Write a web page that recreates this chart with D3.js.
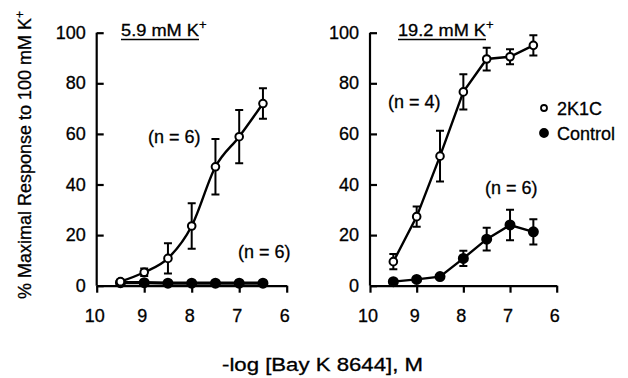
<!DOCTYPE html>
<html>
<head>
<meta charset="utf-8">
<script src="https://cdn.jsdelivr.net/npm/d3@7"></script>
<style>
  body { margin: 0; background: #fff; }
  svg { display: block; font-family: 'Liberation Sans', Arial, sans-serif; }
  svg text { stroke: #000; stroke-width: 0.3px; fill: #000; }
</style>
</head>
<body>
<div id="chart"></div>
<script>
const W = 628;
const H = 378;

// -log concentration of Bay K 8644
const doses = [9.5, 9, 8.5, 8, 7.5, 7, 6.5];
const xTicks = [10, 9, 8, 7, 6];
const yTicks = [0, 20, 40, 60, 80, 100];

// 5.9 mM K+
const low2K1C = [1.6, 5.3, 10.8, 23.6, 47, 58.9, 72];
const low2K1CErr = [0.8, 1.5, 6, 9, 11, 10.5, 6];
const lowControl = [1.2, 1.2, 1, 1, 1, 1, 1];
const lowControlErr = [0, 0, 0, 0, 0, 0, 0];

// 19.2 mM K+
const high2K1C = [9.5, 27.3, 51.2, 76.6, 89.6, 90.5, 95];
const high2K1CErr = [3, 4, 10, 7, 4.5, 3, 4];
const highControl = [1.6, 2.5, 3.6, 10.8, 18.4, 24, 21.3];
const highControlErr = [0.5, 0.5, 0.5, 3, 4.5, 6, 5];

const svg = d3.select('#chart').append('svg').attr('width', W).attr('height', H);

const FONT = 18;

function drawPanel(opts) {
  const x = d3.scaleLinear().domain([10, 6]).range([opts.left, opts.right]);
  const y = d3.scaleLinear().domain([0, 100]).range([285.7, 32.7]);
  const g = svg.append('g');

  // y axis, ticks inward
  g.append('g')
    .attr('transform', `translate(${opts.left},0)`)
    .call(d3.axisRight(y).tickValues(yTicks).tickSize(7).tickFormat(''))
    .call((a) => a.select('.domain').attr('d', `M0,${y(100)}V${y(0)}`));
  g.selectAll('text.ylab')
    .data(yTicks)
    .enter()
    .append('text')
    .attr('class', 'ylab')
    .attr('x', opts.left - 11)
    .attr('y', (d) => y(d) + 6)
    .attr('text-anchor', 'end')
    .attr('font-size', FONT)
    .text((d) => d);

  // x axis, ticks outward
  g.append('g')
    .attr('transform', `translate(0,${y(0)})`)
    .call(d3.axisBottom(x).tickValues(xTicks).tickSize(7).tickSizeOuter(0).tickFormat(''));
  g.selectAll('text.xlab')
    .data(xTicks)
    .enter()
    .append('text')
    .attr('class', 'xlab')
    .attr('x', (d) => x(d) - 2)
    .attr('y', 322)
    .attr('text-anchor', 'middle')
    .attr('font-size', FONT)
    .text((d) => d);

  g.selectAll('.domain, .tick line').attr('stroke', '#000').attr('stroke-width', 2.2);

  // title with underline under the base text only
  const t = g.append('text')
    .attr('x', opts.titleX)
    .attr('y', 36)
    .attr('font-size', 17);
  t.append('tspan').attr('textLength', opts.titleW).attr('lengthAdjust', 'spacingAndGlyphs').text(opts.title);
  t.append('tspan').attr('dy', -7).attr('font-size', 13).text('+');
  g.append('line')
    .attr('x1', opts.titleX)
    .attr('x2', opts.titleX + opts.titleW)
    .attr('y1', 39.5)
    .attr('y2', 39.5)
    .attr('stroke', '#000')
    .attr('stroke-width', 1.6);

  opts.series.forEach((s) => {
    const line = d3.line()
      .x((d, i) => x(doses[i]))
      .y((d) => y(d))
      .curve(s.curve || d3.curveLinear);
    g.append('path')
      .datum(s.values)
      .attr('d', line)
      .attr('fill', 'none')
      .attr('stroke', '#000')
      .attr('stroke-width', s.width || 2.4);

    const eb = g.append('g');
    s.values.forEach((v, i) => {
      const e = s.err[i];
      if (!e) return;
      const cx = x(doses[i]);
      eb.append('path')
        .attr('d', `M${cx},${y(v + e)}V${y(v - e)}M${cx - 4},${y(v + e)}h8M${cx - 4},${y(v - e)}h8`)
        .attr('stroke', '#000')
        .attr('stroke-width', 2)
        .attr('fill', 'none');
    });

    g.selectAll(null)
      .data(s.values)
      .enter()
      .append('circle')
      .attr('cx', (d, i) => x(doses[i]))
      .attr('cy', (d) => y(d))
      .attr('r', s.filled ? 4.5 : 3.8)
      .attr('fill', s.filled ? '#000' : '#fff')
      .attr('stroke', '#000')
      .attr('stroke-width', 2);
  });

  opts.notes.forEach((n) => {
    g.append('text')
      .attr('x', n.x)
      .attr('y', n.y)
      .attr('font-size', FONT)
      .text(n.text);
  });
}

drawPanel({
  left: 96.7,
  right: 286.7,
  title: '5.9 mM K',
  titleX: 121,
  titleW: 78,
  series: [
    { values: lowControl, err: lowControlErr, filled: true, width: 3.2 },
    { values: low2K1C, err: low2K1CErr, filled: false, curve: d3.curveMonotoneX },
  ],
  notes: [
    { x: 148, y: 143, text: '(n = 6)' },
    { x: 238, y: 258, text: '(n = 6)' },
  ],
});

drawPanel({
  left: 370,
  right: 556.7,
  title: '19.2 mM K',
  titleX: 398,
  titleW: 88,
  series: [
    { values: highControl, err: highControlErr, filled: true },
    { values: high2K1C, err: high2K1CErr, filled: false },
  ],
  notes: [
    { x: 388, y: 108, text: '(n = 4)' },
    { x: 485, y: 194, text: '(n = 6)' },
  ],
});

// legend
const legend = svg.append('g');
const legendItems = ['2K1C', 'Control'];
legendItems.forEach((name, i) => {
  const cy = 108 + i * 25;
  legend.append('circle')
    .attr('cx', 544)
    .attr('cy', cy)
    .attr('r', name === 'Control' ? 4 : 3)
    .attr('fill', name === 'Control' ? '#000' : '#fff')
    .attr('stroke', '#000')
    .attr('stroke-width', 1.8);
  legend.append('text')
    .attr('x', 557)
    .attr('y', cy + 7)
    .attr('font-size', FONT)
    .text(name);
});

// axis titles
svg.append('text')
  .attr('transform', 'translate(31,155) rotate(-90)')
  .attr('text-anchor', 'middle')
  .attr('font-size', FONT)
  .text('% Maximal Response to 100 mM K')
  .append('tspan')
  .attr('dy', -7)
  .attr('font-size', 12)
  .text('+');

svg.append('text')
  .attr('x', 222)
  .attr('y', 371)
  .attr('font-size', FONT)
  .attr('textLength', 201)
  .attr('lengthAdjust', 'spacingAndGlyphs')
  .text('-log [Bay K 8644], M');
</script>
</body>
</html>
